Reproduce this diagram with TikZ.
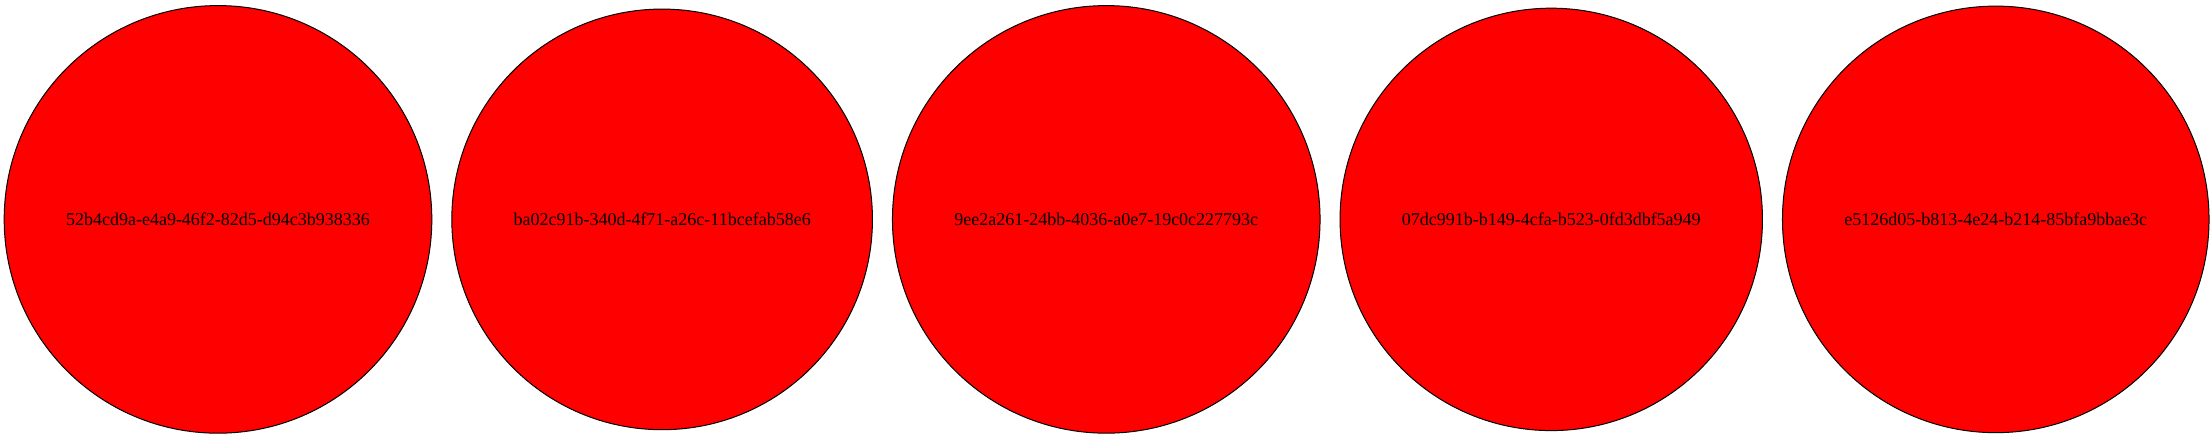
\documentclass[tikz,border=0pt]{standalone}
\usepackage{fontspec}
\setmainfont{Liberation Serif}
\usetikzlibrary{positioning}

\begin{document}
\begin{tikzpicture}[x=1pt,y=1pt,
  every node/.style={inner sep=53.5pt},
  uuid/.style={circle,draw=black,line width=1pt,fill=red,
    font=\fontsize{18}{22}\selectfont}]
\useasboundingbox (0,0) rectangle (2212,435);
\node [uuid] (n52b4) at (218,215.6) {52b4cd9a-e4a9-46f2-82d5-d94c3b938336};
\node [uuid,right=19pt of n52b4] (nba02) {ba02c91b-340d-4f71-a26c-11bcefab58e6};
\node [uuid,right=19pt of nba02] (n9ee2) {9ee2a261-24bb-4036-a0e7-19c0c227793c};
\node [uuid,right=19pt of n9ee2] (n07dc) {07dc991b-b149-4cfa-b523-0fd3dbf5a949};
\node [uuid,right=19pt of n07dc] (ne512) {e5126d05-b813-4e24-b214-85bfa9bbae3c};
\end{tikzpicture}
\end{document}
